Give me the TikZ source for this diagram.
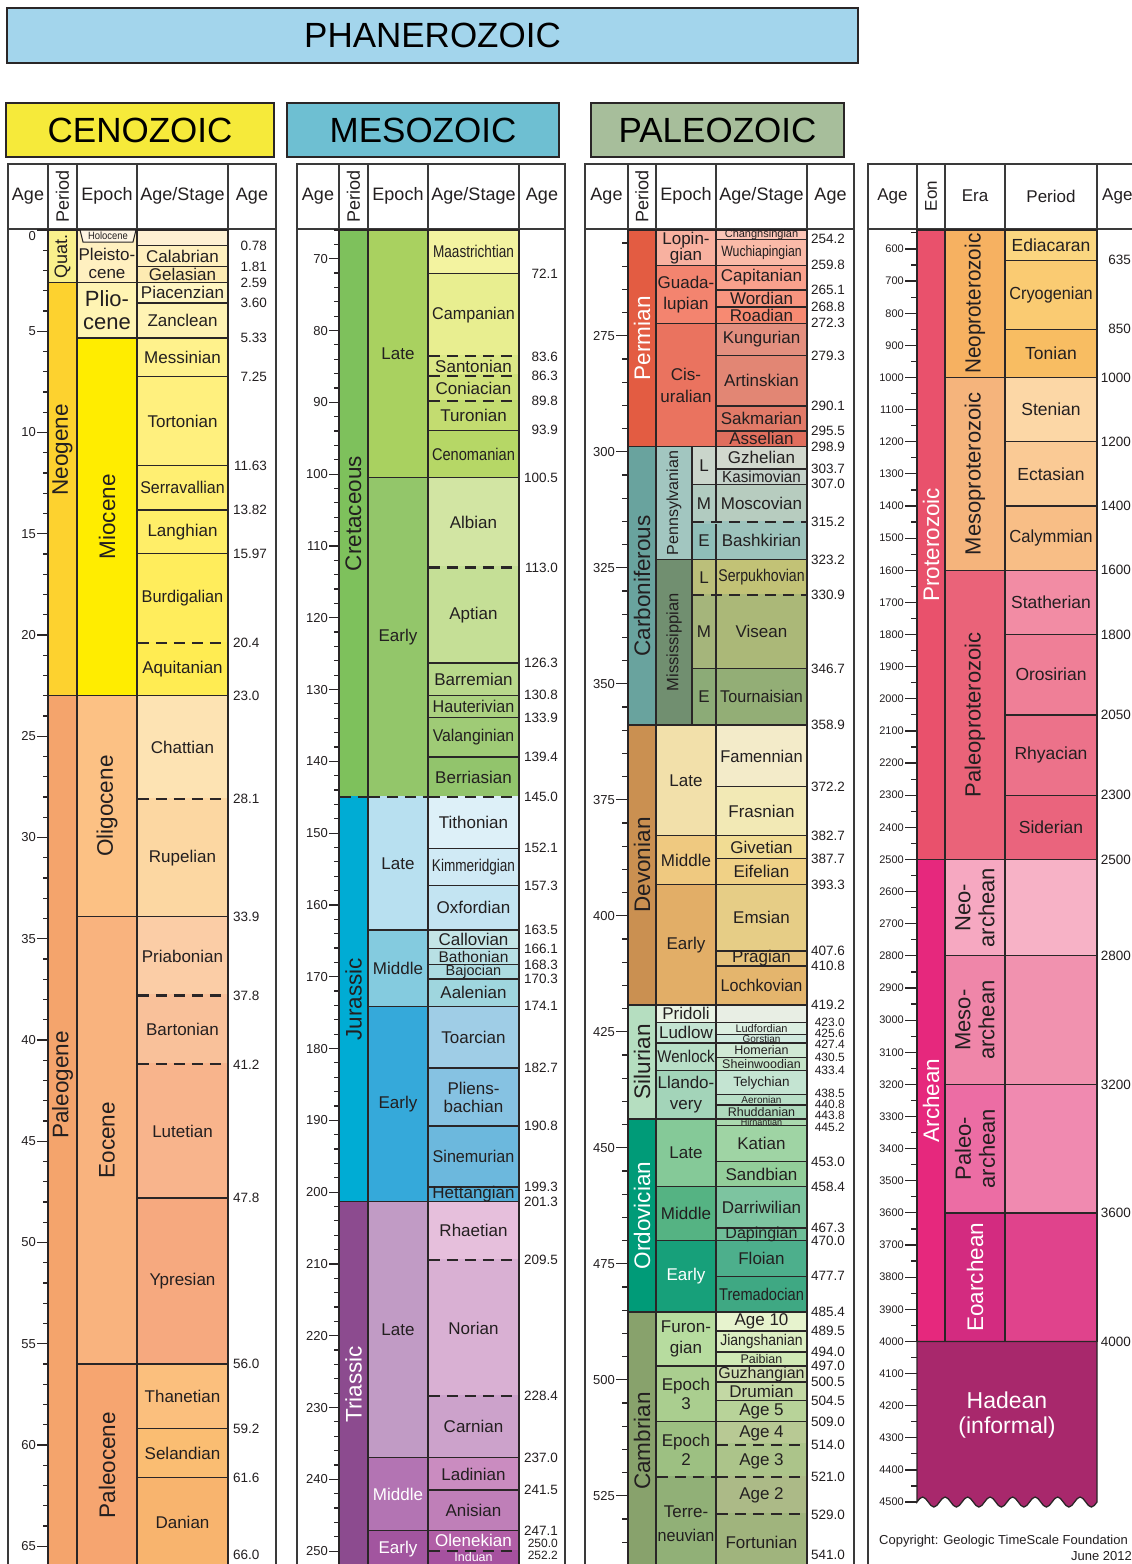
\documentclass[tikz,border=0pt]{standalone}
\usepackage{fontspec}
\setmainfont{Liberation Sans}
\usepackage{graphicx}
\usepackage{xcolor}
\usepackage{tikz}
\definecolor{tsLine}{HTML}{2A2627}
\definecolor{tsFrame}{HTML}{3A3A3A}
\definecolor{tsText}{HTML}{231F20}
\definecolor{phanFill}{HTML}{A3D5EC}
\definecolor{cenoFill}{HTML}{F6EA3A}
\definecolor{mesoFill}{HTML}{6EBFD2}
\definecolor{paleoFill}{HTML}{A7BE9B}
\definecolor{holoFill}{HTML}{FEF5E4}
\definecolor{hadFill}{HTML}{A8286C}
\pgfdeclarelayer{labels}
\pgfsetlayers{main,labels}
\newcounter{tsu}
\newcommand{\tsfont}[1]{\fontsize{#1}{#1}\selectfont}
\newcommand{\tsnarrow}[2]{\scalebox{#1}[1]{#2}}
\tikzset{
  ts-cell/.style={draw=tsLine, line width=1.3pt},
  ts-frame/.style={draw=tsFrame, line width=1.8pt},
  ts-lab/.style={inner sep=0pt, align=center, text=tsText,
    font=\fontsize{17}{19}\selectfont},
  ts-rot/.style={ts-lab, rotate=90, font=\fontsize{22.5}{24}\selectfont},
  ts-age/.style={inner sep=0pt, text=tsText, font=\fontsize{13.5}{14}\selectfont},
  ts-age-s/.style={ts-age, font=\fontsize{12}{12}\selectfont},
  ts-tick/.style={inner sep=0pt, text=tsText, font=\fontsize{13}{14}\selectfont},
  ts-tick-ln/.style={draw=tsLine, line width=1.2pt},
  ts-head/.style={inner sep=0pt, text=tsText, font=\fontsize{18}{18}\selectfont},
  ts-dash/.style={draw=tsLine, line width=2.1pt, dash pattern=on 11pt off 7pt},
  ts-era/.style={draw=tsLine, line width=2.6pt, inner sep=0pt,
    font=\fontsize{35}{35}\selectfont},
}
% [label options]{x left}{x right}{top age}{base age}{fill}{label}
\newcommand{\tsunit}[7][]{%
  \stepcounter{tsu}%
  \definecolor{tsfill}{HTML}{#6}%
  \filldraw[ts-cell, fill=tsfill] (#2,{ya(#4)}) rectangle (#3,{ya(#5)});
  \begin{pgfonlayer}{labels}
    \node[ts-lab, #1] (u\arabic{tsu}) at ({(#2+#3)/2},{(ya(#4)+ya(#5))/2}) {#7};
  \end{pgfonlayer}
}
% {x left}{x right}{age}{fill below}
\newcommand{\tsdash}[4]{%
  \definecolor{tsfill}{HTML}{#4}%
  \draw[line width=2.6pt, tsfill] ({#1+0.8},{ya(#3)}) -- ({#2-0.8},{ya(#3)});
  \draw[ts-dash] ({#1+0.8},{ya(#3)}) -- ({#2-0.8},{ya(#3)});
}
\begin{document}
\begin{tikzpicture}[x=1pt, y=-1pt]
\useasboundingbox (0,0) rectangle (1132,1564);
\fill[white] (0,0) rectangle (1132,1564);

\node[ts-era, fill=phanFill, minimum width=851pt, minimum height=55pt] (phanerozoic) at (432.5,35.5) {PHANEROZOIC};
\node[ts-era, fill=cenoFill, minimum width=268pt, minimum height=54pt] (cenozoic) at (140,130) {CENOZOIC};
\node[ts-era, fill=mesoFill, minimum width=272pt, minimum height=54pt] (mesozoic) at (423,130) {MESOZOIC};
\node[ts-era, fill=paleoFill, minimum width=253pt, minimum height=54pt] (paleozoic) at (717.5,130) {PALEOZOIC};

\begin{scope}[declare function={ya(\a)=230+20.25*\a;}]
  \draw[ts-frame] (8,164) rectangle (276,229);
  \draw[ts-frame] (48,164) -- (48,229) (77,164) -- (77,229) (137,164) -- (137,229) (228,164) -- (228,229);
  \draw[ts-frame] (8,229) -- (8,1600) (276,229) -- (276,1600);
  \node[ts-head] (czh1) at (28,196) {Age};
  \node[ts-head, rotate=90] (czh2) at (62.5,196) {Period};
  \node[ts-head] (czh3) at (107,196) {Epoch};
  \node[ts-head] (czh4) at (182.5,196) {Age/Stage};
  \node[ts-head] (czh5) at (252,196) {Age};

  \tsunit[ts-rot, font=\tsfont{18}]{48}{77}{0}{2.59}{F9F08C}{Quat.}
  \tsunit{48}{77}{2.59}{23.0}{FDD22F}{}
  \tsunit{48}{77}{23.0}{66.0}{F4A46C}{}

  \tsunit{77}{137}{0}{2.59}{FFF0C0}{}
  \tsunit[font=\fontsize{22}{23}\selectfont]{77}{137}{2.59}{5.33}{FFF4B3}{Plio-\\cene}
  \tsunit[ts-rot]{77}{137}{5.33}{23.0}{FFED00}{Miocene}
  \tsunit[ts-rot]{77}{137}{23.0}{33.9}{FCC184}{Oligocene}
  \tsunit[ts-rot]{77}{137}{33.9}{56.0}{F9B37E}{Eocene}
  \tsunit[ts-rot]{77}{137}{56.0}{66.0}{F6A570}{Paleocene}

  \tsunit{137}{228}{0}{0.78}{FEF0D3}{}
  \tsunit{137}{228}{0.78}{1.81}{FFF0BE}{Calabrian}
  \tsunit{137}{228}{1.81}{2.59}{FDEBB2}{Gelasian}
  \tsunit{137}{228}{2.59}{3.60}{FFF6C3}{Piacenzian}
  \tsunit{137}{228}{3.60}{5.33}{FFF3B4}{Zanclean}
  \tsunit{137}{228}{5.33}{7.25}{FFF28C}{Messinian}
  \tsunit{137}{228}{7.25}{11.63}{FFF07E}{Tortonian}
  \tsunit{137}{228}{11.63}{13.82}{FFEF72}{\tsnarrow{0.94}{Serravallian}}
  \tsunit{137}{228}{13.82}{15.97}{FFEE68}{Langhian}
  \tsunit{137}{228}{15.97}{20.4}{FFED5C}{\tsnarrow{0.96}{Burdigalian}}
  \tsunit{137}{228}{20.4}{23.0}{FFEC52}{Aquitanian}
  \tsunit{137}{228}{23.0}{28.1}{FDE3B3}{Chattian}
  \tsunit{137}{228}{28.1}{33.9}{FCD7A2}{Rupelian}
  \tsunit{137}{228}{33.9}{37.8}{FBCDA6}{Priabonian}
  \tsunit{137}{228}{37.8}{41.2}{F9C19A}{Bartonian}
  \tsunit{137}{228}{41.2}{47.8}{F8B48C}{Lutetian}
  \tsunit{137}{228}{47.8}{56.0}{F6A97F}{Ypresian}
  \tsunit{137}{228}{56.0}{59.2}{FBBF7D}{Thanetian}
  \tsunit{137}{228}{59.2}{61.6}{FABD72}{Selandian}
  \tsunit{137}{228}{61.6}{66.0}{F8B46E}{Danian}
  \tsdash{137}{228}{20.4}{FFEC52}
  \tsdash{137}{228}{28.1}{FCD7A2}
  \tsdash{137}{228}{37.8}{F9C19A}
  \tsdash{137}{228}{41.2}{F8B48C}

  \begin{pgfonlayer}{labels}
    \node[ts-rot] (neogene) at (62.5,450) {Neogene};
    \node[ts-rot] (paleogene) at (62.5,1085) {Paleogene};
    \filldraw[ts-cell, fill=holoFill, line width=1pt] (80,230) -- (136,230) -- (133,242) -- (83,242) -- cycle;
    \node[ts-lab, font=\tsfont{10.5}] (holocene) at (108,236) {\tsnarrow{0.9}{Holocene}};
    \node[ts-lab, font=\fontsize{17}{18}\selectfont] (pleistocene) at (107,263) {Pleisto-\\cene};
  \end{pgfonlayer}

  \foreach \t in {1,...,65} \draw[ts-tick-ln] (43,{ya(\t)}) -- (48,{ya(\t)});
  \foreach \t in {5,10,...,65} {
    \draw[ts-tick-ln] (37,{ya(\t)}) -- (48,{ya(\t)});
    \node[ts-tick, anchor=east] (czt\t) at (36,{ya(\t)}) {\t};
  }
  \draw[ts-tick-ln] (37,{ya(0)}) -- (48,{ya(0)});
  \node[ts-tick, anchor=east] (czt0) at (36,236) {0};
  \foreach \a [count=\i] in {0.78,1.81,2.59,3.60,5.33,7.25,11.63,13.82,15.97}
    \node[ts-age, anchor=east] (cza\i) at (267,{ya(\a)}) {\a};
  \foreach \a [count=\i] in {20.4,23.0,28.1,33.9,37.8,41.2,47.8,56.0,59.2,61.6}
    \node[ts-age, anchor=west] (czb\i) at (233,{ya(\a)}) {\a};
  \node[ts-age, anchor=west] (czb11) at (233,1555) {66.0};
\end{scope}

\begin{scope}[declare function={ya(\a)=230+7.18*(\a-66);}]
  \draw[ts-frame] (297,164) rectangle (565,229);
  \draw[ts-frame] (339,164) -- (339,229) (368,164) -- (368,229) (428,164) -- (428,229) (519,164) -- (519,229);
  \draw[ts-frame] (297,229) -- (297,1600) (565,229) -- (565,1600);
  \node[ts-head] (mzh1) at (318,196) {Age};
  \node[ts-head, rotate=90] (mzh2) at (353.5,196) {Period};
  \node[ts-head] (mzh3) at (398,196) {Epoch};
  \node[ts-head] (mzh4) at (473.5,196) {Age/Stage};
  \node[ts-head] (mzh5) at (542,196) {Age};

  \tsunit[ts-rot]{339}{368}{66}{145.0}{7EC15C}{Cretaceous}
  \tsunit[ts-rot]{339}{368}{145.0}{201.3}{00ACD4}{Jurassic}
  \tsunit[ts-rot, text=white]{339}{368}{201.3}{252.2}{8C4B8F}{Triassic}

  \tsunit{368}{428}{66}{100.5}{A9D160}{Late}
  \tsunit{368}{428}{100.5}{145.0}{93C66A}{Early}
  \tsunit{368}{428}{145.0}{163.5}{B8E0F0}{Late}
  \tsunit{368}{428}{163.5}{174.1}{84CBDF}{Middle}
  \tsunit{368}{428}{174.1}{201.3}{35A9DA}{Early}
  \tsunit{368}{428}{201.3}{237.0}{C19BC5}{Late}
  \tsunit[text=white]{368}{428}{237.0}{247.1}{B374B3}{Middle}
  \tsunit[text=white]{368}{428}{247.1}{252.2}{A2559F}{Early}

  \tsunit{428}{519}{66}{72.1}{F3F3A0}{\tsnarrow{0.8}{Maastrichtian}}
  \tsunit{428}{519}{72.1}{83.6}{E8EE90}{\tsnarrow{0.95}{Campanian}}
  \tsunit{428}{519}{83.6}{86.3}{DCE887}{Santonian}
  \tsunit{428}{519}{86.3}{89.8}{D0E27B}{Coniacian}
  \tsunit{428}{519}{89.8}{93.9}{C3DC70}{Turonian}
  \tsunit{428}{519}{93.9}{100.5}{B6D766}{\tsnarrow{0.86}{Cenomanian}}
  \tsunit{428}{519}{100.5}{113.0}{D2E5A3}{Albian}
  \tsunit{428}{519}{113.0}{126.3}{C5DF96}{Aptian}
  \tsunit{428}{519}{126.3}{130.8}{B8D88B}{Barremian}
  \tsunit{428}{519}{130.8}{133.9}{ABD180}{\tsnarrow{0.95}{Hauterivian}}
  \tsunit{428}{519}{133.9}{139.4}{9FCB76}{\tsnarrow{0.93}{Valanginian}}
  \tsunit{428}{519}{139.4}{145.0}{92C46C}{Berriasian}
  \tsunit{428}{519}{145.0}{152.1}{DDF0F8}{Tithonian}
  \tsunit{428}{519}{152.1}{157.3}{D0EAF5}{\tsnarrow{0.8}{Kimmeridgian}}
  \tsunit{428}{519}{157.3}{163.5}{C3E4F2}{Oxfordian}
  \tsunit{428}{519}{163.5}{166.1}{C4E5E6}{Callovian}
  \tsunit[font=\tsfont{15.5}]{428}{519}{166.1}{168.3}{B8E0E4}{Bathonian}
  \tsunit[font=\tsfont{14.5}]{428}{519}{168.3}{170.3}{ACDBE1}{Bajocian}
  \tsunit{428}{519}{170.3}{174.1}{9FD6DE}{Aalenian}
  \tsunit{428}{519}{174.1}{182.7}{9FCDE6}{Toarcian}
  \tsunit[font=\fontsize{17}{18}\selectfont]{428}{519}{182.7}{190.8}{86C2E2}{Pliens-\\bachian}
  \tsunit{428}{519}{190.8}{199.3}{6CB8DD}{\tsnarrow{0.95}{Sinemurian}}
  \tsunit{428}{519}{199.3}{201.3}{53AED8}{Hettangian}
  \tsunit{428}{519}{201.3}{209.5}{E6BFDC}{Rhaetian}
  \tsunit{428}{519}{209.5}{228.4}{D9B0D3}{Norian}
  \tsunit{428}{519}{228.4}{237.0}{CCA2CB}{Carnian}
  \tsunit{428}{519}{237.0}{241.5}{CA8CC0}{Ladinian}
  \tsunit{428}{519}{241.5}{247.1}{BF7FB8}{Anisian}
  \tsunit[text=white]{428}{519}{247.1}{250.0}{B15EA6}{Olenekian}
  \tsunit{428}{519}{250.0}{252.2}{A6519F}{}
  \tsdash{428}{519}{83.6}{DCE887}
  \tsdash{428}{519}{86.3}{D0E27B}
  \tsdash{428}{519}{89.8}{C3DC70}
  \tsdash{428}{519}{113.0}{C5DF96}
  \tsdash{339}{368}{145.0}{00ACD4}
  \tsdash{368}{428}{145.0}{B8E0F0}
  \tsdash{428}{519}{145.0}{DDF0F8}
  \tsdash{428}{519}{209.5}{D9B0D3}
  \tsdash{428}{519}{228.4}{CCA2CB}
  \tsdash{428}{519}{250.0}{A6519F}
  \begin{pgfonlayer}{labels}
    \node[ts-lab, text=white, font=\tsfont{12.5}] (induan) at (473.5,1557.5) {Induan};
  \end{pgfonlayer}

  \foreach \t in {66,68,...,252} \draw[ts-tick-ln] (334,{ya(\t)}) -- (339,{ya(\t)});
  \foreach \t in {70,80,...,250} {
    \draw[ts-tick-ln] (329,{ya(\t)}) -- (339,{ya(\t)});
    \node[ts-tick, anchor=east] (mzt\t) at (328,{ya(\t)}) {\t};
  }
  \foreach \a [count=\i] in {72.1,83.6,86.3,89.8,93.9,100.5,113.0,126.3,130.8,133.9,139.4,145.0,152.1,157.3,163.5,166.1,168.3,170.3,174.1,182.7,190.8,199.3,201.3,209.5,228.4,237.0,241.5,247.1}
    \node[ts-age, anchor=east] (mza\i) at (558,{ya(\a)}) {\a};
  \node[ts-age-s, anchor=east] (mzb1) at (558,1543) {250.0};
  \node[ts-age-s, anchor=east] (mzb2) at (558,1555) {252.2};
\end{scope}

\begin{scope}[declare function={ya(\a)=230+4.64*(\a-252.2);}]
  \draw[ts-frame] (585,164) rectangle (854,229);
  \draw[ts-frame] (628,164) -- (628,229) (656,164) -- (656,229) (716,164) -- (716,229) (807,164) -- (807,229);
  \draw[ts-frame] (585,229) -- (585,1600) (854,229) -- (854,1600);
  \node[ts-head] (pzh1) at (606.5,196) {Age};
  \node[ts-head, rotate=90] (pzh2) at (642,196) {Period};
  \node[ts-head] (pzh3) at (686,196) {Epoch};
  \node[ts-head] (pzh4) at (761.5,196) {Age/Stage};
  \node[ts-head] (pzh5) at (830.5,196) {Age};

  \tsunit[ts-rot, text=white]{628}{656}{252.2}{298.9}{E35C42}{Permian}
  \tsunit[ts-rot]{628}{656}{298.9}{358.9}{69A39E}{Carboniferous}
  \tsunit[ts-rot]{628}{656}{358.9}{419.2}{CA9051}{Devonian}
  \tsunit[ts-rot]{628}{656}{419.2}{443.8}{B5DEC0}{Silurian}
  \tsunit[ts-rot, text=white]{628}{656}{443.8}{485.4}{009B78}{Ordovician}
  \tsunit[ts-rot]{628}{656}{485.4}{541.0}{88A26C}{Cambrian}

  \tsunit[font=\fontsize{17}{16}\selectfont]{656}{716}{252.2}{259.8}{F8B1A0}{Lopin-\\gian}
  \tsunit[font=\fontsize{17}{21}\selectfont]{656}{716}{259.8}{272.3}{F3846F}{Guada-\\lupian}
  \tsunit[font=\fontsize{17}{22}\selectfont]{656}{716}{272.3}{298.9}{EA735F}{Cis-\\uralian}
  \tsunit[ts-rot, font=\tsfont{16}]{656}{692}{298.9}{323.2}{A2C6C0}{Pennsylvanian}
  \tsunit[ts-rot, font=\tsfont{16.5}]{656}{692}{323.2}{358.9}{718F70}{Mississippian}
  \tsunit{692}{716}{298.9}{307.0}{CAD5CB}{L}
  \tsunit{692}{716}{307.0}{315.2}{B1CBC0}{M}
  \tsunit{692}{716}{315.2}{323.2}{8FBEB8}{E}
  \tsunit{692}{716}{323.2}{330.9}{BBBF7A}{L}
  \tsunit{692}{716}{330.9}{346.7}{A5B57B}{M}
  \tsunit{692}{716}{346.7}{358.9}{8CAB77}{E}
  \tsunit{656}{716}{358.9}{382.7}{F2E0AA}{Late}
  \tsunit{656}{716}{382.7}{393.3}{EFC980}{Middle}
  \tsunit{656}{716}{393.3}{419.2}{E2AE67}{Early}
  \tsunit{656}{716}{419.2}{423.0}{E9F3E4}{Pridoli}
  \tsunit{656}{716}{423.0}{427.4}{C4E4D2}{Ludlow}
  \tsunit{656}{716}{427.4}{433.4}{B8DFC7}{\tsnarrow{0.88}{Wenlock}}
  \tsunit[font=\fontsize{17}{21}\selectfont]{656}{716}{433.4}{443.8}{A3D4B9}{Llando-\\very}
  \tsunit{656}{716}{443.8}{458.4}{85C998}{Late}
  \tsunit{656}{716}{458.4}{470.0}{55B383}{Middle}
  \tsunit[text=white]{656}{716}{470.0}{485.4}{17A07A}{Early}
  \tsunit[font=\fontsize{17}{21}\selectfont]{656}{716}{485.4}{497.0}{B7DC9F}{Furon-\\gian}
  \tsunit[font=\fontsize{17}{19}\selectfont]{656}{716}{497.0}{509.0}{AACE8F}{Epoch\\3}
  \tsunit[font=\fontsize{17}{19}\selectfont]{656}{716}{509.0}{521.0}{9DC082}{Epoch\\2}
  \tsunit[font=\fontsize{17}{24}\selectfont]{656}{716}{521.0}{541.0}{91B077}{Terre-\\\tsnarrow{0.95}{neuvian}}

  \tsunit[font=\tsfont{11}]{716}{807}{252.2}{254.2}{FBC5B7}{Changhsingian}
  \tsunit[font=\tsfont{15}]{716}{807}{254.2}{259.8}{FABAA8}{\tsnarrow{0.82}{Wuchiapingian}}
  \tsunit{716}{807}{259.8}{265.1}{F9A18D}{Capitanian}
  \tsunit{716}{807}{265.1}{268.8}{F8957F}{Wordian}
  \tsunit{716}{807}{268.8}{272.3}{F78A72}{Roadian}
  \tsunit{716}{807}{272.3}{279.3}{E38F7F}{Kungurian}
  \tsunit{716}{807}{279.3}{290.1}{E28674}{Artinskian}
  \tsunit{716}{807}{290.1}{295.5}{E17A68}{Sakmarian}
  \tsunit{716}{807}{295.5}{298.9}{E06E5D}{Asselian}
  \tsunit{716}{807}{298.9}{303.7}{D2D8CE}{Gzhelian}
  \tsunit[font=\tsfont{16}]{716}{807}{303.7}{307.0}{C5D2CA}{\tsnarrow{0.95}{Kasimovian}}
  \tsunit{716}{807}{307.0}{315.2}{B7CCBF}{Moscovian}
  \tsunit{716}{807}{315.2}{323.2}{9DC3BC}{Bashkirian}
  \tsunit{716}{807}{323.2}{330.9}{C2C276}{\tsnarrow{0.83}{Serpukhovian}}
  \tsunit{716}{807}{330.9}{346.7}{ABB878}{Visean}
  \tsunit{716}{807}{346.7}{358.9}{93AE76}{\tsnarrow{0.95}{Tournaisian}}
  \tsunit{716}{807}{358.9}{372.2}{F3EBC9}{\tsnarrow{0.97}{Famennian}}
  \tsunit{716}{807}{372.2}{382.7}{F2E9B5}{Frasnian}
  \tsunit{716}{807}{382.7}{387.7}{F1DC93}{Givetian}
  \tsunit{716}{807}{387.7}{393.3}{F0D186}{Eifelian}
  \tsunit{716}{807}{393.3}{407.6}{E6CD86}{Emsian}
  \tsunit{716}{807}{407.6}{410.8}{E5C17A}{Pragian}
  \tsunit{716}{807}{410.8}{419.2}{E4B56D}{\tsnarrow{0.95}{Lochkovian}}
  \tsunit{716}{807}{419.2}{423.0}{E8EEE4}{}
  \tsunit[font=\tsfont{11}]{716}{807}{423.0}{425.6}{DCEFE1}{Ludfordian}
  \tsunit[font=\tsfont{10}]{716}{807}{425.6}{427.4}{D0EADE}{Gorstian}
  \tsunit[font=\tsfont{12.5}]{716}{807}{427.4}{430.5}{D0E9D4}{Homerian}
  \tsunit[font=\tsfont{12.5}]{716}{807}{430.5}{433.4}{C4E4C8}{Sheinwoodian}
  \tsunit[font=\tsfont{13.5}]{716}{807}{433.4}{438.5}{C4E4D2}{Telychian}
  \tsunit[font=\tsfont{10}]{716}{807}{438.5}{440.8}{B8DFC7}{Aeronian}
  \tsunit[font=\tsfont{12.5}]{716}{807}{440.8}{443.8}{ADD9BC}{Rhuddanian}
  \tsunit[font=\tsfont{9}]{716}{807}{443.8}{445.2}{ABD9AF}{Hirnantian}
  \tsunit{716}{807}{445.2}{453.0}{9FD4A4}{Katian}
  \tsunit{716}{807}{453.0}{458.4}{93CE9A}{Sandbian}
  \tsunit{716}{807}{458.4}{467.3}{7DC4A0}{Darriwilian}
  \tsunit[font=\tsfont{16}]{716}{807}{467.3}{470.0}{6FBE98}{Dapingian}
  \tsunit{716}{807}{470.0}{477.7}{4DAF8C}{Floian}
  \tsunit{716}{807}{477.7}{485.4}{3FA883}{\tsnarrow{0.86}{Tremadocian}}
  \tsunit{716}{807}{485.4}{489.5}{E7F3CE}{Age 10}
  \tsunit[font=\tsfont{15.5}]{716}{807}{489.5}{494.0}{DBEEC1}{\tsnarrow{0.9}{Jiangshanian}}
  \tsunit[font=\tsfont{12.5}]{716}{807}{494.0}{497.0}{D0E9B5}{Paibian}
  \tsunit[font=\tsfont{16}]{716}{807}{497.0}{500.5}{CFDEB0}{Guzhangian}
  \tsunit{716}{807}{500.5}{504.5}{C3D8A4}{Drumian}
  \tsunit{716}{807}{504.5}{509.0}{B8D399}{Age 5}
  \tsunit{716}{807}{509.0}{514.0}{B8C994}{Age 4}
  \tsunit{716}{807}{514.0}{521.0}{ACC48A}{Age 3}
  \tsunit{716}{807}{521.0}{529.0}{ACBA87}{Age 2}
  \tsunit{716}{807}{529.0}{541.0}{A0B47D}{Fortunian}
  \tsdash{692}{807}{315.2}{9DC3BC}
  \tsdash{692}{807}{330.9}{ABB878}
  \tsdash{716}{807}{514.0}{ACC48A}
  \tsdash{656}{716}{521.0}{91B077}
  \tsdash{716}{807}{521.0}{ACBA87}
  \tsdash{716}{807}{529.0}{A0B47D}

  \foreach \t in {255,260,...,540} \draw[ts-tick-ln] (622,{ya(\t)}) -- (628,{ya(\t)});
  \foreach \t in {275,300,...,525} {
    \draw[ts-tick-ln] (616,{ya(\t)}) -- (628,{ya(\t)});
    \node[ts-tick, anchor=east] (pzt\t) at (615,{ya(\t)}) {\t};
  }
  \foreach \a [count=\i] in {254.2,259.8,265.1,268.8,272.3,279.3,290.1,295.5,298.9,303.7,307.0,315.2,323.2,330.9,346.7,358.9,372.2,382.7,387.7,393.3,407.6,410.8,419.2,453.0,458.4,467.3,470.0,477.7,485.4,489.5,494.0,497.0,500.5,504.5,509.0,514.0,521.0,529.0}
    \node[ts-age, anchor=east] (pza\i) at (845,{ya(\a)}) {\a};
  \foreach \a/\p [count=\i] in {423.0/1022,425.6/1033,427.4/1044,430.5/1057,433.4/1070,438.5/1093,440.8/1104,443.8/1115,445.2/1127}
    \node[ts-age-s, anchor=east] (pzs\i) at (845,\p) {\a};
  \node[ts-age, anchor=east] (pzb) at (845,1555) {541.0};
\end{scope}

\begin{scope}[declare function={ya(\a)=230+0.3213*(\a-541);}]
  \draw[ts-frame] (868,164) rectangle (1150,229);
  \draw[ts-frame] (917,164) -- (917,229) (945,164) -- (945,229) (1005,164) -- (1005,229) (1097,164) -- (1097,229);
  \draw[ts-frame] (868,229) -- (868,1600);
  \node[ts-head, font=\tsfont{17}] (pch1) at (892.5,196) {Age};
  \node[ts-head, font=\tsfont{17}, rotate=90] (pch2) at (931,196) {Eon};
  \node[ts-head, font=\tsfont{17}] (pch3) at (975,196) {Era};
  \node[ts-head, font=\tsfont{17}] (pch4) at (1051,196) {Period};
  \node[ts-head, font=\tsfont{17}, anchor=west] (pch5) at (1102,196) {Age};

  \tsunit[ts-rot, text=white]{917}{945}{541}{2500}{E9516C}{Proterozoic}
  \tsunit[ts-rot, text=white]{917}{945}{2500}{4000}{E6287D}{Archean}

  \tsunit[ts-rot, font=\tsfont{22}]{945}{1005}{541}{1000}{F6B161}{\tsnarrow{0.94}{Neoproterozoic}}
  \tsunit[ts-rot, font=\tsfont{22}]{945}{1005}{1000}{1600}{F5B47C}{Mesoproterozoic}
  \tsunit[ts-rot, font=\tsfont{22}]{945}{1005}{1600}{2500}{EA6379}{Paleoproterozoic}
  \tsunit[ts-rot, font=\fontsize{22}{24}\selectfont]{945}{1005}{2500}{2800}{F6A8C1}{Neo-\\archean}
  \tsunit[ts-rot, font=\fontsize{22}{24}\selectfont]{945}{1005}{2800}{3200}{EF86A9}{Meso-\\archean}
  \tsunit[ts-rot, font=\fontsize{22}{24}\selectfont]{945}{1005}{3200}{3600}{EC6DA4}{Paleo-\\archean}
  \tsunit[ts-rot, font=\tsfont{22.5}, text=white]{945}{1005}{3600}{4000}{D32B80}{Eoarchean}

  \tsunit[font=\tsfont{17.5}]{1005}{1097}{541}{635}{FBD680}{Ediacaran}
  \tsunit[font=\tsfont{17.5}]{1005}{1097}{635}{850}{FACB72}{\tsnarrow{0.93}{Cryogenian}}
  \tsunit[font=\tsfont{17.5}]{1005}{1097}{850}{1000}{F8BD62}{Tonian}
  \tsunit[font=\tsfont{17.5}]{1005}{1097}{1000}{1200}{FCD7A6}{Stenian}
  \tsunit[font=\tsfont{17.5}]{1005}{1097}{1200}{1400}{FACA95}{Ectasian}
  \tsunit[font=\tsfont{17.5}]{1005}{1097}{1400}{1600}{F8BE86}{\tsnarrow{0.95}{Calymmian}}
  \tsunit[font=\tsfont{17.5}]{1005}{1097}{1600}{1800}{F28CA4}{Statherian}
  \tsunit[font=\tsfont{17.5}]{1005}{1097}{1800}{2050}{EF7F97}{Orosirian}
  \tsunit[font=\tsfont{17.5}]{1005}{1097}{2050}{2300}{EC728A}{Rhyacian}
  \tsunit[font=\tsfont{17.5}]{1005}{1097}{2300}{2500}{EA647D}{Siderian}
  \tsunit{1005}{1097}{2500}{2800}{F7B2C6}{}
  \tsunit{1005}{1097}{2800}{3200}{F192AF}{}
  \tsunit{1005}{1097}{3200}{3600}{F08AB0}{}
  \tsunit{1005}{1097}{3600}{4000}{E0438C}{}

  \filldraw[ts-cell, fill=hadFill] (917,{ya(4000)}) -- (1097,{ya(4000)}) -- (1097,1502)
    \foreach \k in {1,...,8} { sin ++(-5.625,5) cos ++(-5.625,-5) sin ++(-5.625,-5) cos ++(-5.625,5) }
    -- cycle;
  \node[ts-lab, text=white, font=\fontsize{23}{25}\selectfont] (hadean) at (1007,1415) {Hadean\\(informal)};

  \foreach \t in {550,600,...,4500} \draw[ts-tick-ln] (911,{ya(\t)}) -- (917,{ya(\t)});
  \foreach \t in {600,700,...,4500} {
    \draw[ts-tick-ln] (905,{ya(\t)}) -- (917,{ya(\t)});
    \node[ts-tick, anchor=east, font=\tsfont{11}] (pct\t) at (904,{ya(\t)}) {\t};
  }
  \foreach \a [count=\i] in {635,850,1000,1200,1400,1600,1800,2050,2300,2500,2800,3200,3600,4000}
    \node[ts-age, anchor=east] (pca\i) at (1131,{ya(\a)}) {\a};
  \node[ts-tick, anchor=west] (copyright) at (879,1541) {Copyright: Geologic TimeScale Foundation};
  \node[ts-tick, anchor=east] (issued) at (1132,1556) {June 2012};
\end{scope}
\end{tikzpicture}
\end{document}
